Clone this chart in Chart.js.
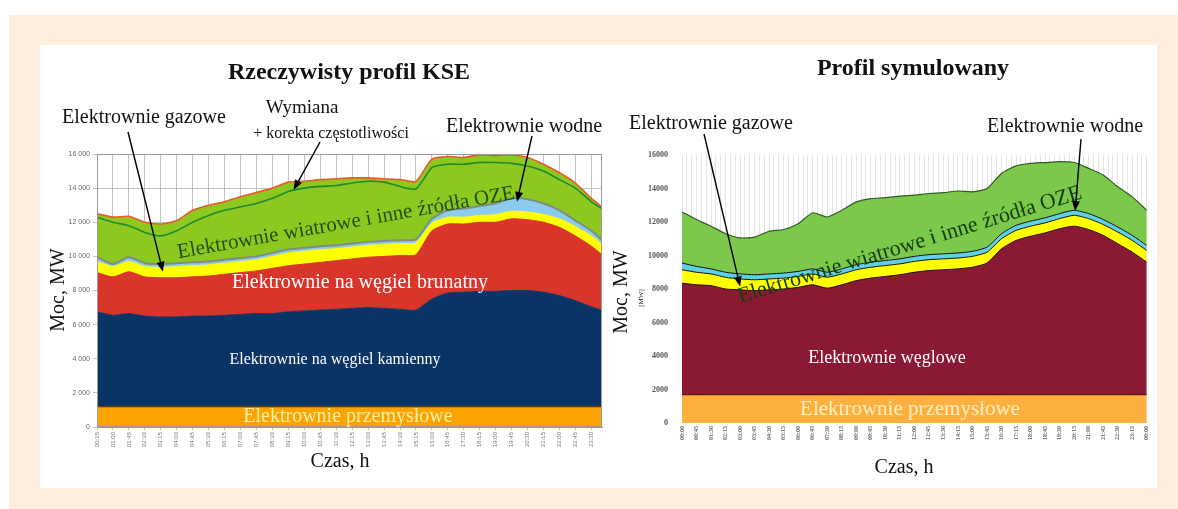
<!DOCTYPE html>
<html>
<head>
<meta charset="utf-8">
<script src="https://cdn.jsdelivr.net/npm/chart.js@4.4.1/dist/chart.umd.min.js"></script>
<style>
  html, body { margin: 0; padding: 0; background: #fff; }
  body { width: 1178px; height: 509px; position: relative; overflow: hidden; }
  .frame { position: absolute; left: 9px; top: 15px; width: 1169px; height: 494px; background: #fdeedd; }
  .panel { position: absolute; left: 40px; top: 45px; width: 1117px; height: 443px; background: #fff; }
  canvas { position: absolute; }
  #kse { left: 40px; top: 45px; }
  #sim { left: 610px; top: 45px; }
</style>
</head>
<body>
<div class="frame"></div>
<div class="panel"></div>
<canvas id="kse" width="570" height="443"></canvas>
<canvas id="sim" width="547" height="443"></canvas>
<script>
// --- Rzeczywisty profil KSE (MW, co 45 min) ---
const hoursKse = [0.25, 1, 1.75, 2.5, 3.25, 4, 4.75, 5.5, 6.25, 7, 7.75, 8.5, 9.25, 10, 10.75, 11.5, 12.25,
  13, 13.75, 14.5, 15.25, 16, 16.75, 17.5, 18.25, 19, 19.75, 20.5, 21.25, 22, 22.75, 23.5, 24];
const kseIndustrial = [1200, 1200, 1200, 1200, 1200, 1200, 1200, 1200, 1200, 1200, 1200, 1200, 1200, 1200, 1200, 1200, 1200,
  1200, 1200, 1200, 1200, 1200, 1200, 1200, 1200, 1200, 1200, 1200, 1200, 1200, 1200, 1200, 1200];
const kseHardCoal = [5550, 5350, 5450, 5300, 5250, 5250, 5300, 5300, 5350, 5400, 5450, 5450, 5550, 5600, 5650, 5700, 5750,
  5800, 5750, 5700, 5650, 6300, 6650, 6700, 6750, 6750, 6800, 6800, 6700, 6500, 6200, 5850, 5650];
const kseLignite = [2300, 2250, 2450, 2300, 2300, 2300, 2300, 2350, 2400, 2450, 2500, 2650, 2700, 2750, 2800, 2850, 2900,
  2950, 3050, 3150, 3250, 4000, 4050, 4000, 4050, 4050, 4200, 4150, 4100, 4000, 3800, 3550, 3250];
const kseGas = [650, 600, 600, 600, 600, 650, 650, 650, 650, 650, 650, 700, 750, 750, 750, 700, 700,
  700, 700, 700, 700, 450, 400, 400, 400, 450, 450, 450, 450, 500, 550, 600, 600];
const kseHydro = [250, 150, 250, 200, 200, 200, 200, 200, 200, 200, 200, 200, 200, 200, 200, 200, 200,
  200, 200, 200, 200, 250, 400, 500, 550, 650, 750, 750, 650, 500, 350, 300, 250];
const kseWind = [2550, 2750, 2400, 2400, 2350, 2500, 3050, 3300, 3400, 3600, 3750, 3800, 3950, 3900, 3900, 3900, 3850,
  3750, 3650, 3550, 3400, 3500, 3150, 3000, 3000, 2800, 2550, 2450, 2300, 2200, 2200, 1900, 1950];
const kseExchange = [12300, 12000, 11800, 11400, 11200, 11500, 12000, 12400, 12700, 12900, 13100, 13400, 13800, 14000, 14100, 14150, 14300,
  14400, 14350, 14100, 13950, 15200, 15400, 15400, 15500, 15500, 15450, 15300, 15000, 14500, 14000, 13200, 12800];
const kseTicks = ['00:15', '01:00', '01:45', '02:30', '03:15', '04:00', '04:45', '05:30', '06:15', '07:00', '07:45',
  '08:30', '09:15', '10:00', '10:45', '11:30', '12:15', '13:00', '13:45', '14:30', '15:15', '16:00', '16:45',
  '17:30', '18:15', '19:00', '19:45', '20:30', '21:15', '22:00', '22:45', '23:30'];
const kseYTicks = ['0', '2 000', '4 000', '6 000', '8 000', '10 000', '12 000', '14 000', '16 000'];

// --- Profil symulowany (MW, co 45 min) ---
const hoursSim = [0, 0.75, 1.5, 2.25, 3, 3.75, 4.5, 5.25, 6, 6.75, 7.5, 8.25, 9, 9.75, 10.5, 11.25, 12,
  12.75, 13.5, 14.25, 15, 15.75, 16.5, 17.25, 18, 18.75, 19.5, 20.25, 21, 21.75, 22.5, 23.25, 24];
const simIndustrial = [1700, 1700, 1700, 1700, 1700, 1700, 1700, 1700, 1700, 1700, 1700, 1700, 1700, 1700, 1700, 1700, 1700,
  1700, 1700, 1700, 1700, 1700, 1700, 1700, 1700, 1700, 1700, 1700, 1700, 1700, 1700, 1700, 1700];
const simCoal = [6650, 6550, 6500, 6300, 6250, 6200, 6250, 6300, 6400, 6550, 6350, 6550, 6800, 6950, 7050, 7150, 7300,
  7400, 7450, 7500, 7600, 7850, 8700, 9200, 9450, 9650, 9900, 10050, 9850, 9500, 9000, 8500, 7900];
const simGas = [800, 750, 700, 700, 650, 650, 650, 650, 650, 650, 650, 650, 650, 650, 650, 650, 650,
  650, 650, 650, 650, 650, 600, 600, 600, 600, 600, 650, 650, 650, 700, 700, 700];
const simHydro = [400, 350, 300, 300, 300, 300, 300, 300, 300, 300, 300, 300, 300, 300, 300, 300, 300,
  300, 300, 300, 300, 300, 300, 300, 300, 300, 300, 300, 300, 300, 300, 300, 300];
const simWind = [3050, 2800, 2550, 2300, 2150, 2250, 2550, 2600, 2850, 3350, 3300, 3500, 3750, 3800, 3750, 3750, 3650,
  3650, 3650, 3700, 3550, 3500, 3600, 3550, 3450, 3300, 3100, 2850, 2700, 2650, 2400, 2300, 2100];
const simTicks = ['00:00', '00:45', '01:30', '02:15', '03:00', '03:45', '04:30', '05:15', '06:00', '06:45', '07:30',
  '08:15', '09:00', '09:45', '10:30', '11:15', '12:00', '12:45', '13:30', '14:15', '15:00', '15:45', '16:30',
  '17:15', '18:00', '18:45', '19:30', '20:15', '21:00', '21:45', '22:30', '23:15', '00:00'];
const simYTicks = ['0', '2000', '4000', '6000', '8000', '10000', '12000', '14000', '16000'];

const serif = '"Liberation Serif", "DejaVu Serif", serif';

function toHours(s) {
    const [h, m] = s.split(':').map(Number);
    return h + m / 60;
}

function points(hours, values) {
    return hours.map((h, i) => ({ x: h, y: values[i] }));
}

function area(label, hours, values, color, line, width, first) {
    return {
        label,
        data: points(hours, values),
        backgroundColor: color,
        borderColor: line || color,
        borderWidth: width || 1,
        fill: first ? 'origin' : '-1',
        stack: 'mix',
        pointRadius: 0,
        tension: 0.2
    };
}

// napisy i strzałki rysowane na płótnie
function notesPlugin(notes) {
    return {
        id: 'notes',
        afterDraw(chart) {
            const { ctx, chartArea, scales: { x, y } } = chart;
            ctx.save();
            if (notes.frame) {
                ctx.strokeStyle = '#9a9a9a';
                ctx.lineWidth = 1;
                ctx.strokeRect(chartArea.left + 0.5, chartArea.top + 0.5,
                    chartArea.right - chartArea.left - 1, chartArea.bottom - chartArea.top - 1);
            }
            notes.texts.forEach(t => {
                ctx.save();
                ctx.translate(t.x, t.y);
                if (t.angle) ctx.rotate(t.angle * Math.PI / 180);
                ctx.font = t.font;
                ctx.fillStyle = t.color || '#111';
                ctx.textAlign = 'center';
                ctx.textBaseline = 'middle';
                ctx.fillText(t.text, 0, 0);
                ctx.restore();
            });
            notes.arrows.forEach(a => {
                const tx = x.getPixelForValue(a.at[0]);
                const ty = y.getPixelForValue(a.at[1]);
                const [fx, fy] = a.from;
                const ang = Math.atan2(ty - fy, tx - fx);
                const c = Math.cos(ang), s = Math.sin(ang);
                ctx.strokeStyle = '#000';
                ctx.lineWidth = 1.4;
                ctx.beginPath();
                ctx.moveTo(fx, fy);
                ctx.lineTo(tx - 8 * c, ty - 8 * s);
                ctx.stroke();
                ctx.fillStyle = '#000';
                ctx.beginPath();
                ctx.moveTo(tx, ty);
                ctx.lineTo(tx - 10 * c + 4 * s, ty - 10 * s - 4 * c);
                ctx.lineTo(tx - 10 * c - 4 * s, ty - 10 * s + 4 * c);
                ctx.closePath();
                ctx.fill();
            });
            ctx.restore();
        }
    };
}

document.addEventListener('DOMContentLoaded', () => {
    initKseChart();
    initSimChart();
});

function initKseChart() {
    const ctx = document.getElementById('kse').getContext('2d');
    new Chart(ctx, {
        type: 'line',
        data: {
            datasets: [
                area('Elektrownie przemysłowe', hoursKse, kseIndustrial, '#ffa300', '#6a3a05', 1.2, true),
                area('Elektrownie na węgiel kamienny', hoursKse, kseHardCoal, '#0b3466'),
                area('Elektrownie na węgiel brunatny', hoursKse, kseLignite, '#d8352b'),
                area('Elektrownie gazowe', hoursKse, kseGas, '#ffff00'),
                area('Elektrownie wodne', hoursKse, kseHydro, '#8ccbf0', '#7d8c84', 2),
                area('Elektrownie wiatrowe i inne źródła OZE', hoursKse, kseWind, '#8cc820', '#ea5a2a', 1.6),
                {
                    label: 'Wymiana + korekta częstotliwości',
                    data: points(hoursKse, kseExchange),
                    borderColor: '#1e8a2c',
                    borderWidth: 1.6,
                    fill: false,
                    stack: 'exchange',
                    order: -1,
                    pointRadius: 0,
                    tension: 0.2
                }
            ]
        },
        options: {
            responsive: false,
            animation: false,
            layout: { padding: { left: 0, right: 8, top: 109, bottom: 31 } },
            plugins: {
                legend: { display: false },
                tooltip: { enabled: false }
            },
            scales: {
                x: {
                    type: 'linear',
                    min: 0.25,
                    max: 24,
                    afterBuildTicks: s => { s.ticks = kseTicks.map(l => ({ value: toHours(l) })); },
                    afterFit: s => { s.height = 30; },
                    ticks: {
                        autoSkip: false,
                        minRotation: 90,
                        maxRotation: 90,
                        padding: 2,
                        color: '#777',
                        font: { size: 6, family: 'Liberation Sans' },
                        callback: (v, i) => kseTicks[i]
                    },
                    grid: { color: '#c2c2c2', tickLength: 3 },
                    border: { color: '#9a9a9a' }
                },
                y: {
                    stacked: true,
                    min: 0,
                    max: 16000,
                    afterFit: s => { s.width = 57; },
                    ticks: {
                        stepSize: 2000,
                        padding: 3,
                        color: '#666',
                        font: { size: 7, family: 'Liberation Sans' },
                        callback: (v, i) => kseYTicks[i]
                    },
                    grid: { color: '#c2c2c2', tickLength: 4 },
                    border: { color: '#9a9a9a' }
                }
            }
        },
        plugins: [notesPlugin({
            frame: true,
            texts: [
                { text: 'Rzeczywisty profil KSE', x: 309, y: 28, font: 'bold 24px ' + serif },
                { text: 'Elektrownie gazowe', x: 104, y: 73, font: '20px ' + serif },
                { text: 'Wymiana', x: 262, y: 63, font: '19px ' + serif },
                { text: '+ korekta częstotliwości', x: 291, y: 89, font: '16px ' + serif },
                { text: 'Elektrownie wodne', x: 484, y: 82, font: '20px ' + serif },
                { text: 'Moc, MW', x: 19, y: 245, angle: -90, font: '20px ' + serif },
                { text: 'Czas, h', x: 300, y: 417, font: '20px ' + serif },
                { text: 'Elektrownie wiatrowe i inne źródła OZE', x: 306, y: 178, angle: -10, font: '21px ' + serif, color: '#21500e' },
                { text: 'Elektrownie na węgiel brunatny', x: 320, y: 238, font: '20px ' + serif, color: '#ffffff' },
                { text: 'Elektrownie na węgiel kamienny', x: 295, y: 315, font: '16px ' + serif, color: '#ffffff' },
                { text: 'Elektrownie przemysłowe', x: 308, y: 372, font: '20px ' + serif, color: '#fff2a8' }
            ],
            arrows: [
                { from: [88, 87], at: [3.35, 9100] },
                { from: [280, 97], at: [9.5, 13900] },
                { from: [492, 91], at: [20.0, 13200] }
            ]
        })]
    });
}

function initSimChart() {
    const ctx = document.getElementById('sim').getContext('2d');
    new Chart(ctx, {
        type: 'line',
        data: {
            datasets: [
                area('Elektrownie przemysłowe', hoursSim, simIndustrial, '#fdb040', '#5a1a10', 1.2, true),
                area('Elektrownie węglowe', hoursSim, simCoal, '#8a1a33', '#2a0810', 1),
                area('Elektrownie gazowe', hoursSim, simGas, '#ffff00', '#111', 1),
                area('Elektrownie wodne', hoursSim, simHydro, '#5fd0e6', '#111', 1),
                area('Elektrownie wiatrowe i inne źródła OZE', hoursSim, simWind, '#7bc84a', '#2f5a22', 1.2)
            ]
        },
        options: {
            responsive: false,
            animation: false,
            layout: { padding: { left: 0, right: 7, top: 110, bottom: 35 } },
            plugins: {
                legend: { display: false },
                tooltip: { enabled: false }
            },
            scales: {
                x: {
                    type: 'linear',
                    min: 0,
                    max: 24,
                    afterBuildTicks: s => {
                        const t = [];
                        for (let q = 0; q <= 96; q++) t.push({ value: q / 4 });
                        s.ticks = t;
                    },
                    afterFit: s => { s.height = 30; },
                    ticks: {
                        autoSkip: false,
                        minRotation: 90,
                        maxRotation: 90,
                        padding: 3,
                        color: '#666',
                        font: { size: 6, family: serif, weight: 'bold' },
                        callback: (v, i) => (i % 3 === 0 ? simTicks[i / 3] : '')
                    },
                    grid: { color: '#e4e4e4', drawTicks: false },
                    border: { display: false }
                },
                y: {
                    stacked: true,
                    min: 0,
                    max: 16000,
                    afterFit: s => { s.width = 72; },
                    ticks: {
                        stepSize: 2000,
                        padding: 6,
                        color: '#555',
                        font: { size: 8, family: serif, weight: 'bold' },
                        callback: (v, i) => simYTicks[i]
                    },
                    grid: { display: false },
                    border: { display: false }
                }
            }
        },
        plugins: [notesPlugin({
            frame: false,
            texts: [
                { text: 'Profil symulowany', x: 303, y: 24, font: 'bold 24px ' + serif },
                { text: 'Elektrownie gazowe', x: 101, y: 79, font: '20px ' + serif },
                { text: 'Elektrownie wodne', x: 455, y: 82, font: '20px ' + serif },
                { text: 'Moc, MW', x: 12, y: 247, angle: -90, font: '20px ' + serif },
                { text: '[MW]', x: 31, y: 253, angle: -90, font: '7px ' + serif },
                { text: 'Czas, h', x: 294, y: 423, font: '20px ' + serif },
                { text: 'Elektrownie wiatrowe i inne źródła OZE', x: 300, y: 200, angle: -17, font: '22px ' + serif, color: '#143c0c' },
                { text: 'Elektrownie węglowe', x: 277, y: 313, font: '18px ' + serif, color: '#ffffff' },
                { text: 'Elektrownie przemysłowe', x: 300, y: 364, font: '21px ' + serif, color: '#fff0c0' }
            ],
            arrows: [
                { from: [94, 89], at: [3.0, 8150] },
                { from: [471, 94], at: [20.3, 12650] }
            ]
        })]
    });
}
</script>
</body>
</html>
